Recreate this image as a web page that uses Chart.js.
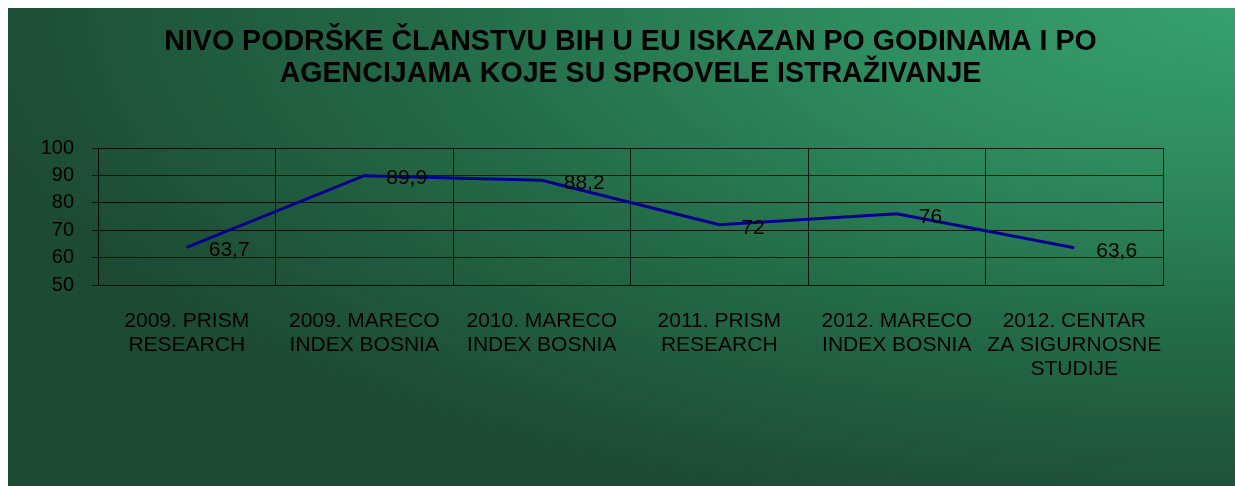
<!DOCTYPE html>
<html>
<head>
<meta charset="utf-8">
<script src="https://cdn.jsdelivr.net/npm/chart.js@4"></script>
<style>
  html, body { margin: 0; padding: 0; background: #ffffff; }
  body { padding: 8px 0 0 8px; }
  #wrap {
    width: 1227px; height: 478px;
    background: radial-gradient(ellipse 105% 110% at 100% 0%, #37a06e 0%, #2e8c5f 30%, #236b48 62%, #1c4a33 100%);
  }
  canvas { display: block; }
</style>
</head>
<body>
<div id="wrap"><canvas id="c" width="1227" height="478"></canvas></div>
<script>
const titleLines = [
  "NIVO PODRŠKE ČLANSTVU BIH U EU ISKAZAN PO GODINAMA I PO",
  "AGENCIJAMA KOJE SU SPROVELE ISTRAŽIVANJE"
];
const categories = [
  ["2009. PRISM", "RESEARCH"],
  ["2009. MARECO", "INDEX BOSNIA"],
  ["2010. MARECO", "INDEX BOSNIA"],
  ["2011. PRISM", "RESEARCH"],
  ["2012. MARECO", "INDEX BOSNIA"],
  ["2012. CENTAR", "ZA SIGURNOSNE", "STUDIJE"]
];
const supportValues = [63.7, 89.9, 88.2, 72, 76, 63.6];
const yTicks = [50, 60, 70, 80, 90, 100];

const FONT = "'Liberation Sans', Arial, sans-serif";

const valueLabels = {
  id: 'valueLabels',
  afterDatasetsDraw(chart) {
    const ctx = chart.ctx;
    const meta = chart.getDatasetMeta(0);
    ctx.save();
    ctx.font = "21px " + FONT;
    ctx.fillStyle = "#000000";
    ctx.textAlign = "left";
    ctx.textBaseline = "middle";
    meta.data.forEach((pt, i) => {
      const txt = String(supportValues[i]).replace('.', ',');
      ctx.fillText(txt, pt.x + 22, pt.y + 3);
    });
    ctx.restore();
  }
};

new Chart(document.getElementById('c'), {
  type: 'line',
  data: {
    labels: categories,
    datasets: [{
      data: supportValues,
      borderColor: '#00008f',
      borderWidth: 3,
      pointRadius: 0,
      tension: 0,
      fill: false
    }]
  },
  options: {
    responsive: false,
    animation: false,
    layout: { padding: { left: 0, right: 72, top: 0, bottom: 0 } },
    plugins: {
      legend: { display: false },
      tooltip: { enabled: false },
      title: {
        display: true,
        text: titleLines,
        fullSize: false,
        color: '#000000',
        font: { family: FONT, size: 28.6, weight: 'bold', lineHeight: 32/28.6 },
        padding: { top: 18, bottom: 58 }
      }
    },
    scales: {
      x: {
        offset: true,
        grid: { display: true, offset: true, color: 'rgba(0,0,0,0.8)', lineWidth: 1, drawTicks: false },
        border: { display: true, color: 'rgba(0,0,0,0.85)', width: 1 },
        ticks: {
          color: '#000000',
          font: { family: FONT, size: 21, lineHeight: 1.15 },
          padding: 24,
          maxRotation: 0,
          autoSkip: false
        },
        afterFit(scale) { scale.height = 201; }
      },
      y: {
        min: 50, max: 100,
        afterBuildTicks(scale) { scale.ticks = yTicks.map(v => ({ value: v })); },
        grid: { color: 'rgba(0,0,0,0.8)', lineWidth: 1, drawTicks: true, tickLength: 6 },
        border: { display: true, color: 'rgba(0,0,0,0.85)', width: 1 },
        ticks: {
          color: '#000000',
          font: { family: FONT, size: 20 },
          padding: 18
        },
        afterFit(scale) { scale.width = 90; }
      }
    }
  },
  plugins: [valueLabels]
});
</script>
</body>
</html>
